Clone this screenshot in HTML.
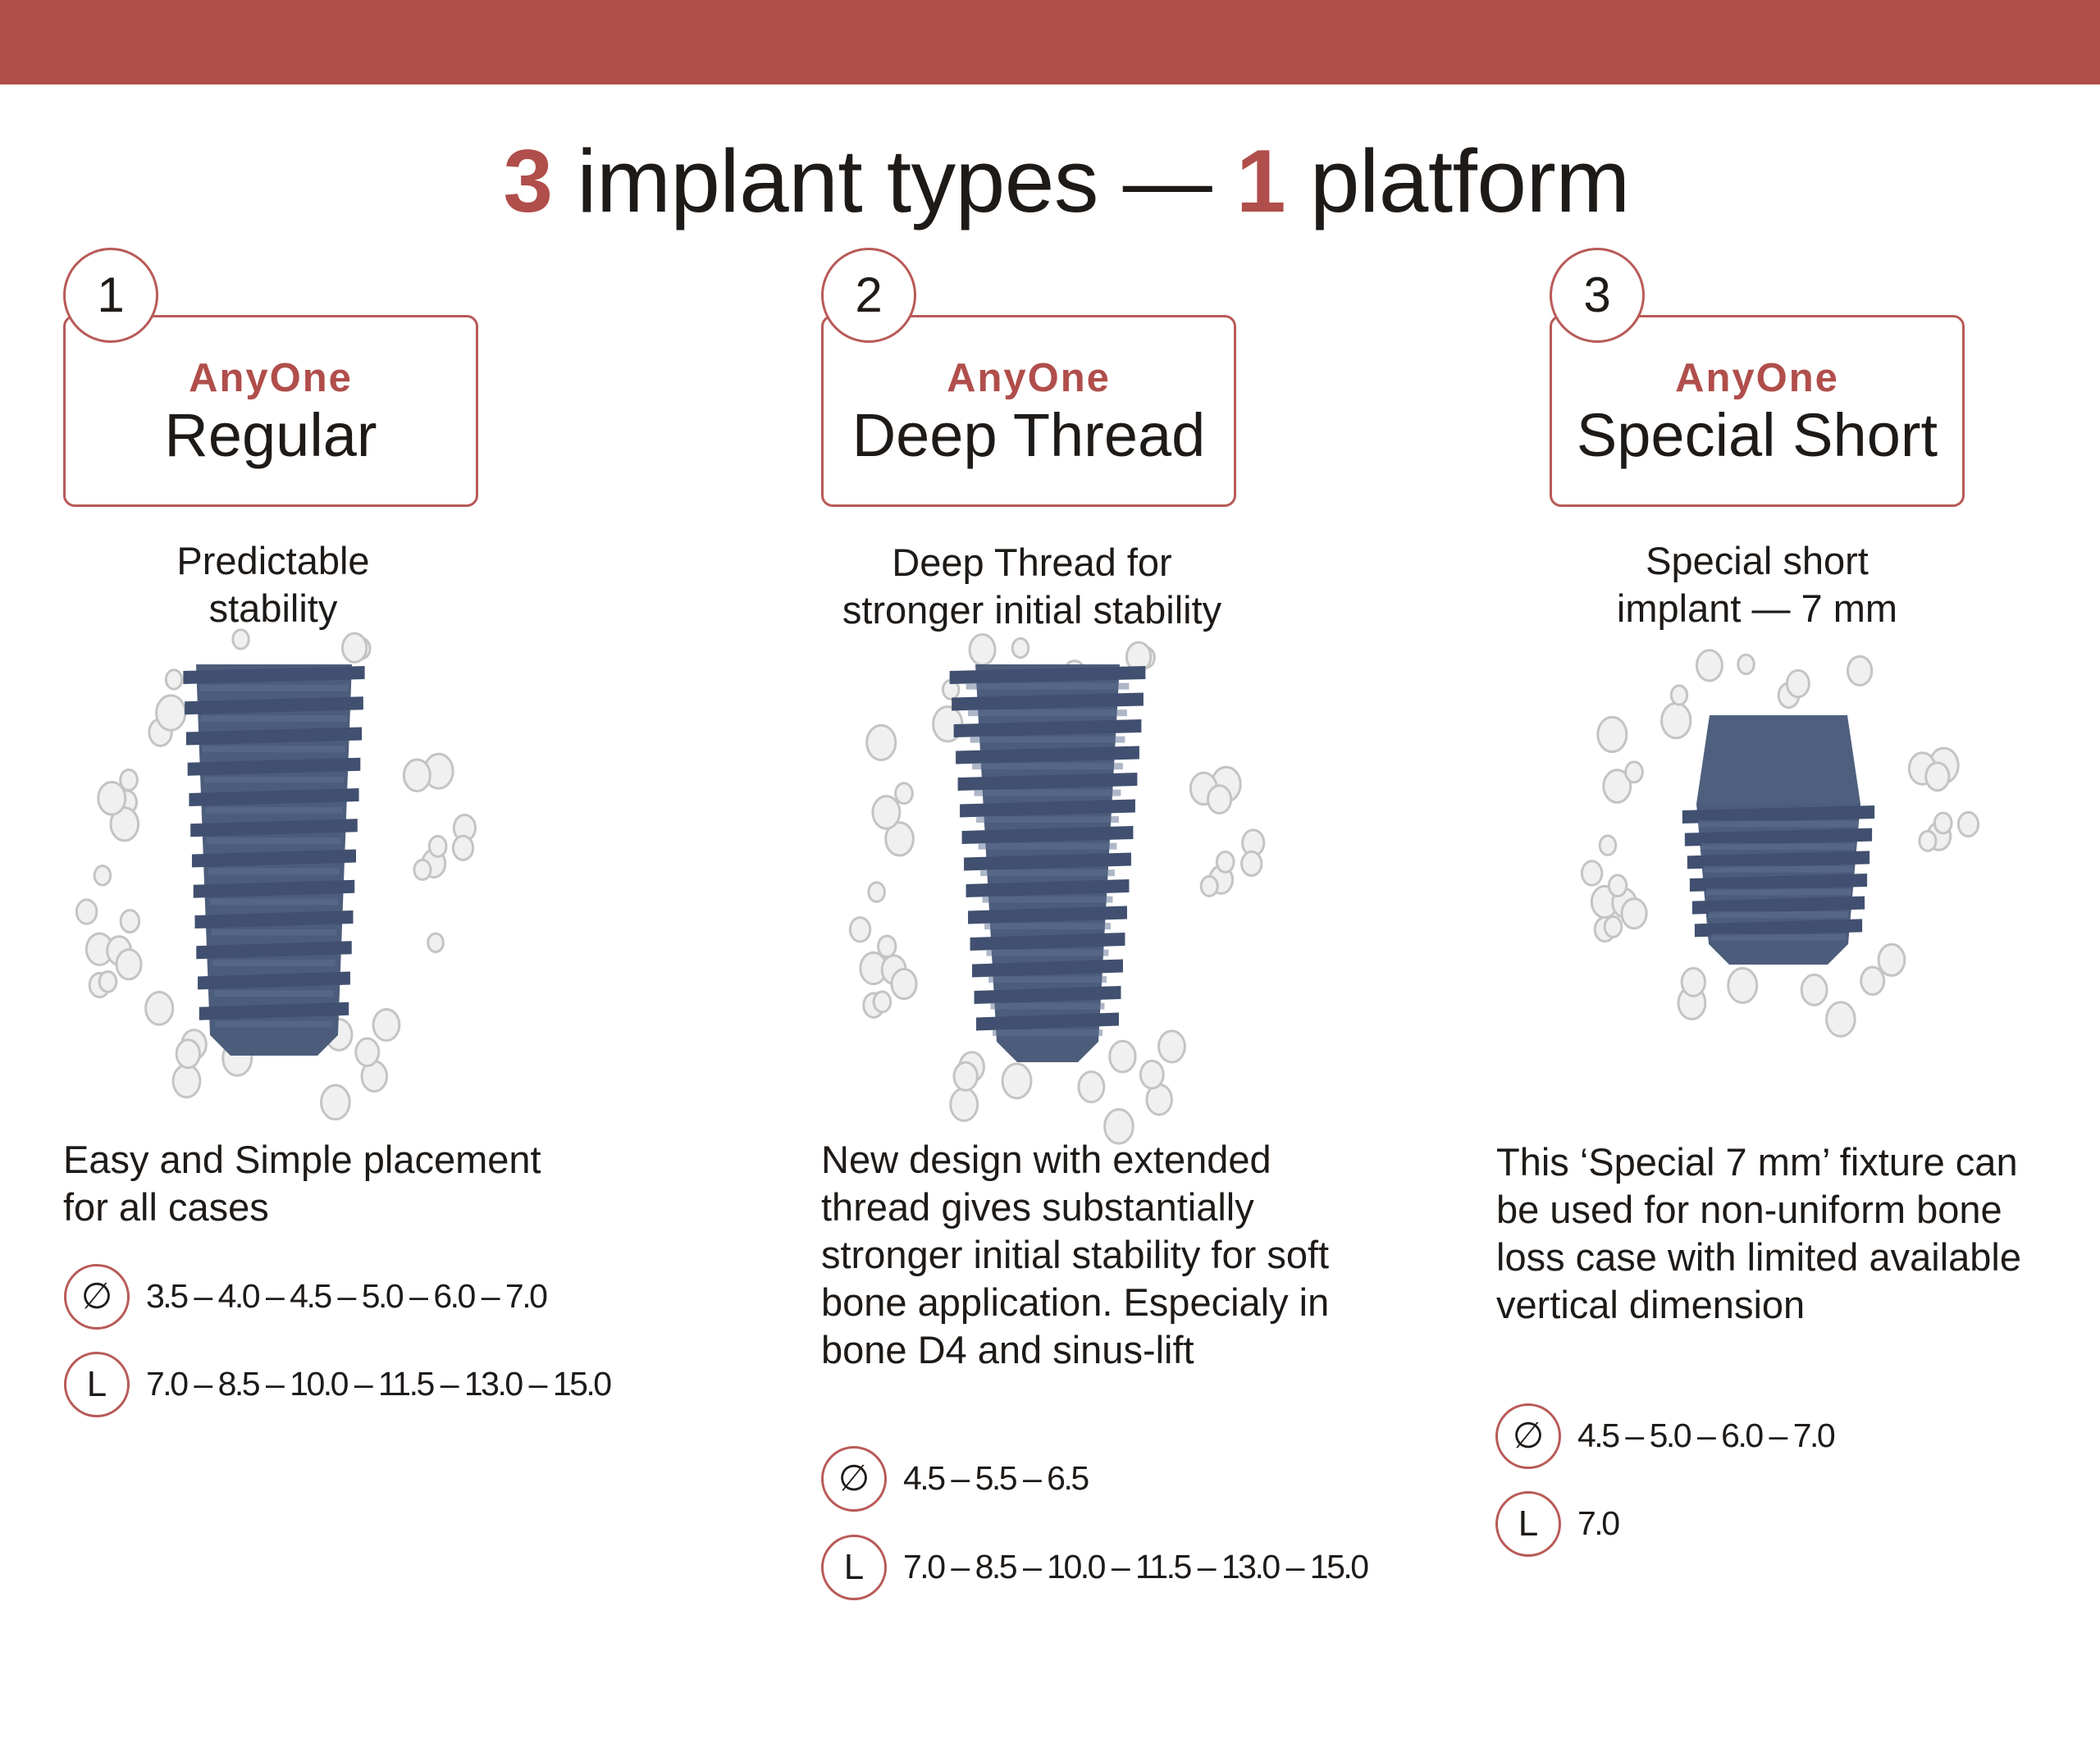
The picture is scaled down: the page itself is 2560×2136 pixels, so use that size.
<!DOCTYPE html>
<html><head><meta charset="utf-8">
<style>
body{margin:0;width:2560px;height:2136px;background:#fff;position:relative;overflow:hidden;font-family:"Liberation Sans",sans-serif;color:#1e1a17}
.bar{position:absolute;left:0;top:0;width:2560px;height:103px;background:#b04e4b}
.title{position:absolute;left:20px;width:2560px;top:156px;text-align:center;font-size:109px;line-height:130px;letter-spacing:-0.5px}
.title b{color:#b04e4b}
.box{position:absolute;top:384px;width:500px;height:228px;border:3px solid #b85a57;border-radius:14px;text-align:center;background:#fff}
.box .a{color:#b04e4b;font-size:49px;font-weight:bold;letter-spacing:2px;margin-top:46px;line-height:56px}
.box .n{font-size:74px;line-height:84px}
.num{position:absolute;width:110px;height:110px;border:3px solid #b85a57;border-radius:50%;background:#fff;font-size:60px;line-height:110px;text-align:center}
.sub{position:absolute;width:600px;text-align:center;font-size:47px;line-height:58px}
.desc{position:absolute;font-size:47px;line-height:58px}
.ic{position:absolute;width:74px;height:74px;border:3px solid #b85a57;border-radius:50%;text-align:center;line-height:74px;font-size:44px}
.sp{position:absolute;font-size:41px;letter-spacing:-2.5px;line-height:60px}
svg{position:absolute;left:0;top:0}
</style></head><body>
<div class="bar"></div>
<div class="title"><b>3</b> implant types — <b>1</b> platform</div>

<svg id="s" width="2560" height="2136"></svg>

<div class="box" style="left:77px"><div class="a">AnyOne</div><div class="n">Regular</div></div>
<div class="box" style="left:1001px"><div class="a">AnyOne</div><div class="n">Deep Thread</div></div>
<div class="box" style="left:1889px"><div class="a">AnyOne</div><div class="n">Special Short</div></div>
<div class="num" style="left:77px;top:302px">1</div>
<div class="num" style="left:1001px;top:302px">2</div>
<div class="num" style="left:1889px;top:302px">3</div>

<div class="sub" style="left:33px;top:655px">Predictable<br>stability</div>
<div class="sub" style="left:958px;top:657px">Deep Thread for<br>stronger initial stability</div>
<div class="sub" style="left:1842px;top:655px">Special short<br>implant — 7 mm</div>

<div class="desc" style="left:77px;top:1385px">Easy and Simple placement<br>for all cases</div>
<div class="desc" style="left:1001px;top:1385px">New design with extended<br>thread gives substantially<br>stronger initial stability for soft<br>bone application. Especialy in<br>bone D4 and sinus-lift</div>
<div class="desc" style="left:1824px;top:1388px">This ‘Special 7 mm’ fixture can<br>be used for non-uniform bone<br>loss case with limited available<br>vertical dimension</div>

<div class="ic" style="left:78px;top:1541px">∅</div><div class="sp" style="left:178px;top:1550px">3.5 – 4.0 – 4.5 – 5.0 – 6.0 – 7.0</div>
<div class="ic" style="left:78px;top:1648px">L</div><div class="sp" style="left:178px;top:1657px">7.0 – 8.5 – 10.0 – 11.5 – 13.0 – 15.0</div>
<div class="ic" style="left:1001px;top:1763px">∅</div><div class="sp" style="left:1101px;top:1772px">4.5 – 5.5 – 6.5</div>
<div class="ic" style="left:1001px;top:1871px">L</div><div class="sp" style="left:1101px;top:1880px">7.0 – 8.5 – 10.0 – 11.5 – 13.0 – 15.0</div>
<div class="ic" style="left:1823px;top:1711px">∅</div><div class="sp" style="left:1923px;top:1720px">4.5 – 5.0 – 6.0 – 7.0</div>
<div class="ic" style="left:1823px;top:1818px">L</div><div class="sp" style="left:1923px;top:1827px">7.0</div>

<script>
var s=document.getElementById('s'),h='';
function rnd(a){a=Math.sin(a*12.9898)*43758.5453;return a-Math.floor(a);}
function bones(cx,cy,rx,ry,n,seed){
 for(var i=0;i<n;i++){var t=rnd(seed+i)*6.283,r=0.72+0.28*rnd(seed+i+0.5);
  var x=cx+Math.cos(t)*rx*r,y=cy+Math.sin(t)*ry*r,sz=9+9*rnd(seed+i+0.3);
  h+='<ellipse cx="'+x+'" cy="'+y+'" rx="'+sz+'" ry="'+(sz*1.2)+'" fill="#f0f0f0" stroke="#c4c4c4" stroke-width="3"/>';}
}
bones(333,1060,250,300,38,1);bones(1285,1080,260,310,38,7);bones(2168,1025,250,230,32,13);
function implant(cx,top,bot,wt,wb,ext,n){
 var g='';var y0=top;
 g+='<polygon points="'+(cx-wt)+','+y0+' '+(cx+wt)+','+y0+' '+(cx+wb)+','+(bot-25)+' '+(cx+wb-25)+','+bot+' '+(cx-wb+25)+','+bot+' '+(cx-wb)+','+(bot-25)+'" fill="#4c5c7b"/>';
 var st=(bot-30-y0)/n;
 for(var i=0;i<n;i++){var y=y0+8+i*st,f=(y-y0)/(bot-y0),w=wt+(wb-wt)*f+ext*(1-0.35*f);
  g+='<polygon points="'+(cx-w)+','+y+' '+(cx+w)+','+(y-6)+' '+(cx+w)+','+(y+10)+' '+(cx-w)+','+(y+16)+'" fill="#415070"/>';
  g+='<rect x="'+(cx-w+20)+'" y="'+(y+st*0.45)+'" width="'+(2*w-40)+'" height="8" fill="#5d6f91" opacity=".5"/>';}
 h+=g;
}
implant(334,810,1287,95,78,16,12);
implant(1277,810,1295,88,62,32,14);
implant(2168,980,1176,100,85,18,6);
h+='<polygon points="2084,872 2252,872 2268,980 2068,980" fill="#4f607f"/>';
s.innerHTML=h;
</script>
</body></html>
